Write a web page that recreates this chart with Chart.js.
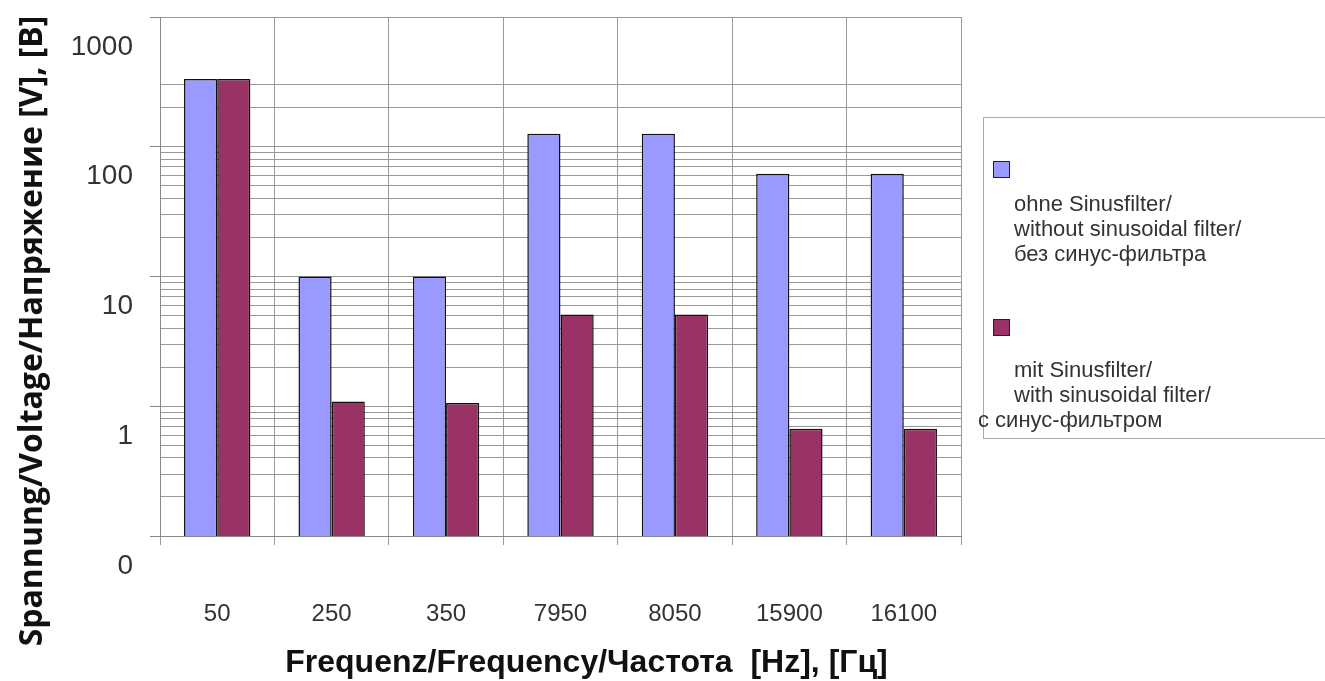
<!DOCTYPE html>
<html>
<head>
<meta charset="utf-8">
<script src="https://cdn.jsdelivr.net/npm/chart.js@4/dist/chart.umd.min.js"></script>
<style>
  body { margin: 0; background: #fff; }
  #wrap { position: relative; width: 1325px; height: 681px; overflow: hidden; }
  #legend { position: absolute; left: 983px; top: 117px; width: 380px; height: 320px;
            border: 1px solid #aaa; font-family: "Liberation Sans", Arial, sans-serif;
            font-size: 22px; color: #333; }
  .item { position: absolute; left: 0; }
  .swatch { position: absolute; left: 9px; width: 17px; height: 17px; border: 1px solid #222; box-sizing: border-box; }
  .lines { position: absolute; left: 30px; line-height: 25px; white-space: nowrap; }
</style>
</head>
<body>
<div id="wrap">
  <canvas id="chart" width="1325" height="681"></canvas>
  <div id="legend"></div>
</div>
<script>
const categories = ["50", "250", "350", "7950", "8050", "15900", "16100"];
const withoutFilter = [333, 10, 10, 126, 126, 62, 62];
const withFilter = [333, 1.09, 1.06, 5.1, 5.1, 0.67, 0.67];
const seriesLabels = [
  ["ohne Sinusfilter/", "without sinusoidal filter/", "без синус-фильтра"],
  ["mit Sinusfilter/", "with sinusoidal filter/", "с синус-фильтром"]
];
const seriesColors = ["#9999ff", "#993366"];
const yMajorTicks = [0.1, 1, 10, 100, 1000];
const yTickLabels = ["0", "1", "10", "100", "1000"];
const yMinorTicks = [0.2, 0.3, 0.4, 0.5, 0.6, 0.7, 0.8, 0.9,
                     2, 3, 4, 5, 6, 7, 8, 9,
                     20, 30, 40, 50, 60, 70, 80, 90,
                     200, 300];
const xTitle = "Frequenz/Frequency/Частота  [Hz], [Гц]";
const yTitle = "Spannung/Voltage/Напряжение [V], [B]";

// draws the two axis titles where the original has them (not centred on the axes)
const axisTitles = {
  id: "axisTitles",
  afterDraw(chart) {
    const { ctx, chartArea } = chart;
    ctx.save();
    ctx.fillStyle = "#111";
    ctx.textAlign = "center";
    ctx.textBaseline = "middle";
    ctx.font = "bold 32px 'Liberation Sans', Arial, sans-serif";
    ctx.fillText(xTitle, (chartArea.left + chartArea.right) / 2 + 26, 663);
    ctx.translate(33, 331);
    ctx.rotate(-Math.PI / 2);
    ctx.font = "bold 32px 'Open Sans', sans-serif";
    ctx.fillText(yTitle, 0, 0);
    ctx.restore();
  }
};

const isMajor = v => yMajorTicks.includes(v);

new Chart(document.getElementById("chart").getContext("2d"), {
  type: "bar",
  data: {
    labels: categories,
    datasets: [withoutFilter, withFilter].map((d, i) => ({
      label: seriesLabels[i].join(" "),
      data: d,
      backgroundColor: seriesColors[i],
      borderColor: "#111",
      borderWidth: 1.5,
      categoryPercentage: 0.58,
      barPercentage: 1
    }))
  },
  options: {
    responsive: false,
    animation: false,
    layout: { padding: { top: 17, right: 364, left: 0, bottom: 0 } },
    plugins: { legend: { display: false }, tooltip: { enabled: false } },
    scales: {
      x: {
        grid: { color: "#999", tickLength: 9, offset: true },
        border: { color: "#888" },
        ticks: { padding: 55, color: "#333", font: { family: "Liberation Sans", size: 24 } },
        afterFit(s) { s.height = 145; }
      },
      y: {
        type: "logarithmic",
        min: 0.1,
        max: 1000,
        afterBuildTicks(s) {
          s.ticks = yMajorTicks.concat(yMinorTicks).sort((a, b) => a - b)
            .map(v => ({ value: v, major: isMajor(v) }));
        },
        grid: {
          color: "#999",
          tickLength: 10,
          tickColor: c => (c.tick && isMajor(c.tick.value)) ? "#888" : "rgba(0,0,0,0)"
        },
        border: { color: "#888" },
        ticks: {
          autoSkip: false,
          labelOffset: 30,
          padding: 17,
          color: "#333",
          font: { family: "Liberation Sans", size: 28 },
          callback: v => {
            const i = yMajorTicks.indexOf(v);
            return i >= 0 ? yTickLabels[i] : "";
          }
        },
        afterFit(s) {
          s.width = 160;
          s.paddingTop = 0;
          s.paddingBottom = 0;
        }
      }
    }
  },
  plugins: [axisTitles]
});

// legend with the multi-line labels of the original
const legend = document.getElementById("legend");
const itemTops = [43, 201];
const textTops = [30, 38];
seriesLabels.forEach((lines, i) => {
  const item = document.createElement("div");
  item.className = "item";
  item.style.top = itemTops[i] + "px";
  const sw = document.createElement("div");
  sw.className = "swatch";
  sw.style.background = seriesColors[i];
  item.appendChild(sw);
  const txt = document.createElement("div");
  txt.className = "lines";
  txt.style.top = textTops[i] + "px";
  lines.forEach((l, j) => {
    const line = document.createElement("div");
    line.textContent = l;
    if (i === 1 && j === lines.length - 1) line.style.marginLeft = "-36px";
    txt.appendChild(line);
  });
  item.appendChild(txt);
  legend.appendChild(item);
});
</script>
</body>
</html>
